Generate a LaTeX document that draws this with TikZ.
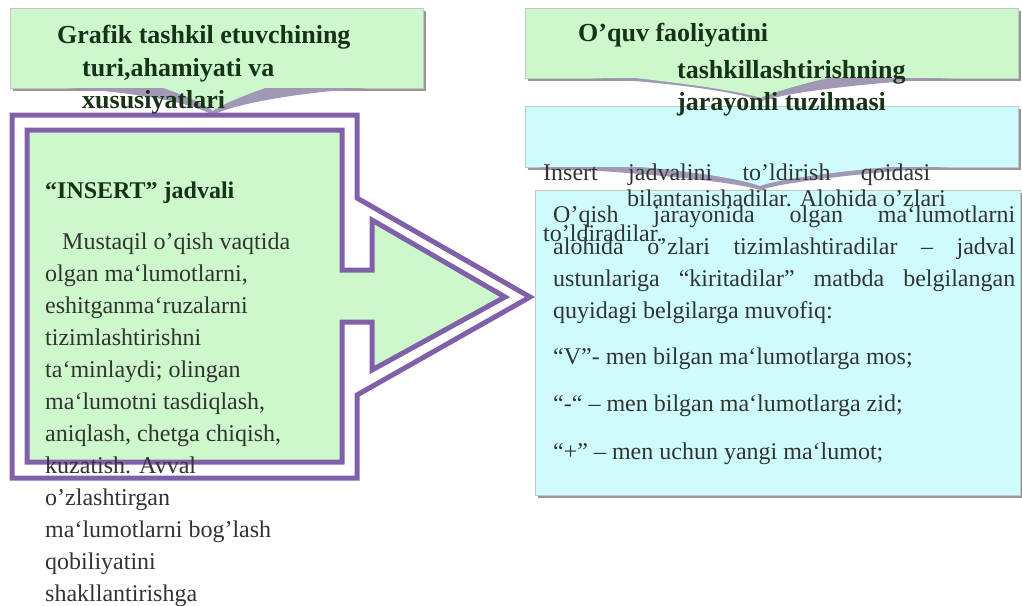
\documentclass[tikz,border=0pt]{standalone}
\usepackage{fontspec}
\setmainfont{Liberation Serif}
\definecolor{bgreen}{RGB}{204,248,204}
\definecolor{bcyan}{RGB}{206,252,252}
\definecolor{purp}{RGB}{128,96,168}
\definecolor{tgreen}{RGB}{24,50,24}
\definecolor{tgray}{RGB}{50,52,50}
\definecolor{shad}{RGB}{160,152,180}
\definecolor{edge}{RGB}{150,150,150}
\begin{document}
\begin{tikzpicture}[x=1pt,y=-1pt,
  titletxt/.style={anchor=base west, inner sep=0pt, font=\fontsize{26}{30}\selectfont\bfseries, text=tgreen},
  headtxt/.style={anchor=base west, inner sep=0pt, font=\fontsize{24}{30}\selectfont\bfseries, text=tgreen},
  bodytxt/.style={anchor=base west, inner sep=0pt, font=\fontsize{24}{30}\selectfont, text=tgray},
  boxshadow/.style={fill=edge},
  greenbox/.style={fill=bgreen, draw=gray!45, line width=1pt},
  cyanbox/.style={fill=bcyan, draw=gray!45, line width=1pt},
  purpline/.style={draw=purp, line width=5pt, line join=miter, miter limit=10}]
\useasboundingbox (0,0) rectangle (1022,605);

% ---------- left title callout ----------
\fill[boxshadow] (13,11) rectangle (426,91);
\path[greenbox] (10,8) rectangle (423,88);
\fill[shad] (63,88) .. controls (150,93) and (195,105) .. (213,115) .. controls (232,105) and (290,93) .. (370,88) -- cycle;
\fill[bgreen] (160,87) .. controls (185,95) and (205,104) .. (213,111) .. controls (222,104) and (245,95) .. (268,87) -- cycle;

% ---------- right title callout ----------
\fill[boxshadow] (528,11) rectangle (1021,81);
\path[greenbox] (525,8) rectangle (1018,78);
\fill[shad] (590,78) .. controls (680,83) and (740,93) .. (762,101) .. controls (785,93) and (860,83) .. (955,78) -- cycle;
\fill[bgreen] (627,77) .. controls (690,84) and (745,92) .. (760,98) .. controls (775,92) and (800,84) .. (833,77) -- cycle;

% ---------- big cyan box ----------
\fill[boxshadow] (538,193) rectangle (1022,498);
\path[cyanbox] (535,190) rectangle (1020,495);

% ---------- small cyan callout ----------
\fill[boxshadow] (528,109) rectangle (1021,170);
\path[cyanbox] (525,106) rectangle (1018,167);
\fill[shad] (533,167) .. controls (650,173) and (735,182) .. (760,190) .. controls (785,182) and (860,173) .. (950,167) -- cycle;
\fill[bcyan] (630,166) .. controls (700,172) and (745,180) .. (760,186) .. controls (775,180) and (830,172) .. (900,166) -- cycle;

% ---------- left double-outlined arrow box ----------
\path[purpline, fill=white] (12,115) -- (357,115) -- (357,198) -- (530,297) -- (357,395) -- (357,478) -- (12,478) -- cycle;
\path[fill=bgreen] (27,130) -- (342,130) -- (342,270) -- (372,270) -- (372,220) -- (505,297) -- (372,370) -- (372,322) -- (342,322) -- (342,462) -- (27,462) -- cycle;
\path[purpline] (27,130) -- (342,130) -- (342,270) -- (372,270) -- (372,220) -- (505,297) -- (372,370) -- (372,322) -- (342,322) -- (342,462) -- (27,462) -- cycle;

% ---------- titles ----------
\node[titletxt] (lt1) at (57,43) {Grafik tashkil etuvchining};
\node[titletxt] (lt2) at (82,76) {turi,ahamiyati va};
\node[titletxt] (lt3) at (82,108) {xususiyatlari};
\node[titletxt] (rt1) at (578,41) {O’quv faoliyatini};
\node[titletxt] (rt2) at (677,78) {tashkillashtirishning};
\node[titletxt] (rt3) at (677,110) {jarayonli tuzilmasi};

% ---------- left text ----------
\node[headtxt] (lhead) at (45,198) {“INSERT” jadvali};
\node[bodytxt] (lb1) at (62,249) {Mustaqil o’qish vaqtida};
\foreach \t [count=\i] in {{olgan ma‘lumotlarni,},eshitganma‘ruzalarni,tizimlashtirishni,{ta‘minlaydi; olingan},{ma‘lumotni tasdiqlash,},{aniqlash, chetga chiqish,},{kuzatish. Avval},o’zlashtirgan,{ma‘lumotlarni bog’lash},qobiliyatini,shakllantirishga}
  \node[bodytxt] (lb\i) at (45,249+32*\i) {\t};

% ---------- right text ----------
\node[bodytxt] (ins1) at (543,180) {\makebox[387pt][s]{Insert jadvalini to’ldirish qoidasi}};
\node[bodytxt] (ins2) at (627,206) {bilantanishadilar. Alohida o’zlari};
\node[bodytxt] (ins3) at (543,241) {to’ldiradilar.};

\node[bodytxt] (rb1) at (553,222) {\makebox[462pt][s]{O’qish jarayonida olgan ma‘lumotlarni}};
\node[bodytxt] (rb2) at (553,254) {\makebox[462pt][s]{alohida o’zlari tizimlashtiradilar – jadval}};
\node[bodytxt] (rb3) at (553,286) {\makebox[462pt][s]{ustunlariga “kiritadilar” matbda belgilangan}};
\node[bodytxt] (rb4) at (553,318) {quyidagi belgilarga muvofiq:};
\node[bodytxt] (rb5) at (553,364) {“V”- men bilgan ma‘lumotlarga mos;};
\node[bodytxt] (rb6) at (553,411) {“-“ – men bilgan ma‘lumotlarga zid;};
\node[bodytxt] (rb7) at (553,459) {“+” – men uchun yangi ma‘lumot;};
\end{tikzpicture}
\end{document}
